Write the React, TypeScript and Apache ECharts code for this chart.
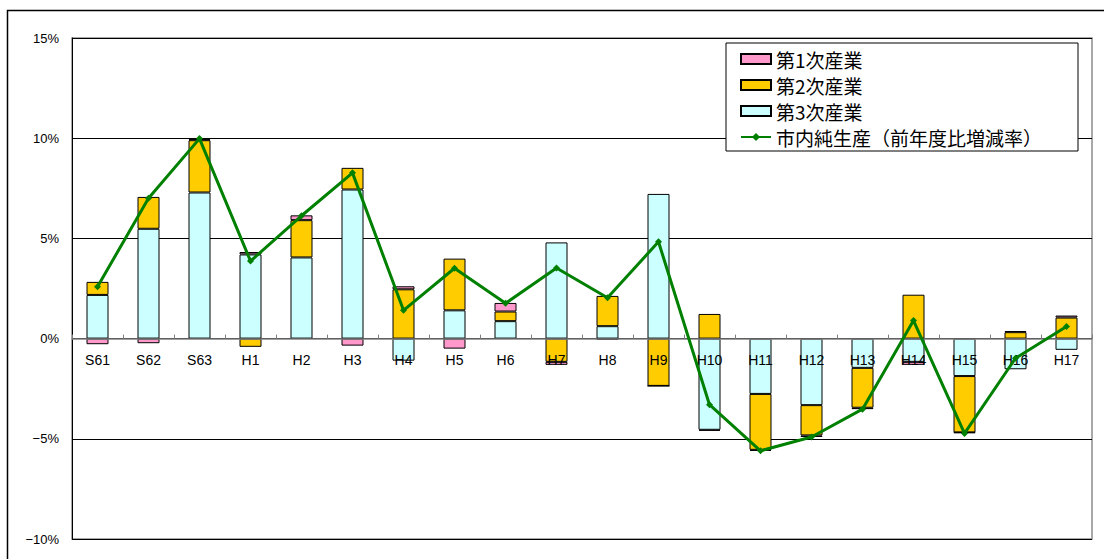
import React, { useEffect, useRef } from "react";
import * as echarts from "echarts";

const categories = ["S61", "S62", "S63", "H1", "H2", "H3", "H4", "H5", "H6", "H7", "H8", "H9", "H10", "H11", "H12", "H13", "H14", "H15", "H16", "H17"];

// 第3次産業 (cyan, stacked nearest axis)
const tertiary = [2.18, 5.48, 7.29, 4.2, 4.05, 7.44, -1.1, 1.41, 0.87, 4.8, 0.62, 7.22, -4.55, -2.76, -3.32, -1.46, -1.16, -1.87, -1.53, -0.56];
// 第2次産業 (yellow)
const secondary = [0.65, 1.59, 2.61, -0.41, 1.86, 1.08, 2.46, 2.58, 0.48, -1.16, 1.51, -2.36, 1.23, -2.79, -1.51, -1.99, 2.19, -2.81, 0.32, 1.05];
// 第1次産業 (pink)
const primary = [-0.28, -0.23, 0.05, 0.12, 0.24, -0.35, 0.15, -0.5, 0.43, -0.15, -0.07, 0, -0.05, -0.05, -0.08, -0.07, -0.15, -0.03, 0.06, 0.1];
// 市内純生産（前年度比増減率）
const total = [2.59, 7.0, 9.98, 3.87, 6.13, 8.27, 1.41, 3.51, 1.76, 3.52, 2.04, 4.83, -3.3, -5.6, -4.91, -3.52, 0.9, -4.73, -0.98, 0.6];

const yTicks = { min: -10, max: 15, interval: 5 };

const NAME1 = "第1次産業";
const NAME2 = "第2次産業";
const NAME3 = "第3次産業";
const NAMEL = "市内純生産（前年度比増減率）";

const GRID_TOP = 38;
const GRID_BOTTOM_Y = 539;

export default function App() {
  const ref = useRef<HTMLDivElement>(null);
  useEffect(() => {
    if (!ref.current) return;
    const chart = echarts.init(ref.current, undefined, { renderer: "svg" });
    const plotH = GRID_BOTTOM_Y - GRID_TOP;
    // distance from the bottom of the plot to the value 0, used to lift the category axis to zero
    const zeroOffset = (plotH * (0 - yTicks.min)) / (yTicks.max - yTicks.min);
    const barCommon = {
      type: "bar",
      stack: "s",
      barWidth: 22,
      itemStyle: { borderColor: "#000", borderWidth: 1 },
      emphasis: { disabled: true },
    };
    chart.setOption({
      animation: false,
      backgroundColor: "#fff",
      graphic: [
        {
          type: "rect",
          shape: { x: 7.5, y: 10.5, width: 1200, height: 700 },
          style: { fill: "none", stroke: "#000", lineWidth: 1.5 },
          silent: true,
          z: -10,
        },
      ],
      grid: {
        left: 72,
        top: GRID_TOP,
        right: 12,
        bottom: 559 - GRID_BOTTOM_Y,
        outerBoundsMode: "none",
        containLabel: false,
        show: true,
        borderColor: "#8c8c8c",
        borderWidth: 1.5,
        backgroundColor: "transparent",
      },
      legend: {
        orient: "vertical",
        left: 726,
        top: 43,
        padding: [6, 4, 4, 14],
        itemGap: 6,
        itemWidth: 30,
        itemHeight: 10,
        backgroundColor: "#fff",
        borderColor: "#000",
        borderWidth: 1,
        data: [
          { name: NAME1, icon: "rect" },
          { name: NAME2, icon: "rect" },
          { name: NAME3, icon: "rect" },
          { name: NAMEL },
        ],
        textStyle: {
          fontFamily: "Noto Sans CJK JP",
          fontSize: 19,
          lineHeight: 20,
          color: "#000",
          width: 298,
        },
      },
      xAxis: {
        type: "category",
        data: categories,
        z: 5,
        position: "bottom",
        offset: -zeroOffset,
        axisLine: { onZero: false, lineStyle: { color: "#808080", width: 1.5 } },
        axisTick: { show: true, inside: true, length: 4, lineStyle: { color: "#808080" } },
        axisLabel: {
          margin: 14,
          fontSize: 14,
          fontFamily: "Liberation Sans",
          color: "#000",
        },
        splitLine: { show: false },
      },
      yAxis: {
        type: "value",
        min: yTicks.min,
        max: yTicks.max,
        interval: yTicks.interval,
        axisLine: { show: true, lineStyle: { color: "#000", width: 1 } },
        axisTick: { show: false },
        axisLabel: {
          margin: 13,
          fontSize: 13,
          fontFamily: "Liberation Sans",
          color: "#000",
          formatter: (v: number) => (v < 0 ? "−" + Math.abs(v) : String(v)) + "%",
        },
        splitLine: { show: true, lineStyle: { color: "#000", width: 1 } },
      },
      series: [
        { ...barCommon, name: NAME3, data: tertiary, itemStyle: { ...barCommon.itemStyle, color: "#ccffff" } },
        { ...barCommon, name: NAME2, data: secondary, itemStyle: { ...barCommon.itemStyle, color: "#ffcc00" } },
        { ...barCommon, name: NAME1, data: primary, itemStyle: { ...barCommon.itemStyle, color: "#ff99cc" } },
        {
          type: "line",
          name: NAMEL,
          data: total,
          z: 6,
          symbol: "diamond",
          symbolSize: 7,
          lineStyle: { color: "#008000", width: 3 },
          itemStyle: { color: "#008000" },
          emphasis: { disabled: true },
        },
      ],
    });
    return () => chart.dispose();
  }, []);
  return (
    <div
      ref={ref}
      style={{ position: "absolute", left: 0, top: 0, width: 1104, height: 559 }}
    />
  );
}
